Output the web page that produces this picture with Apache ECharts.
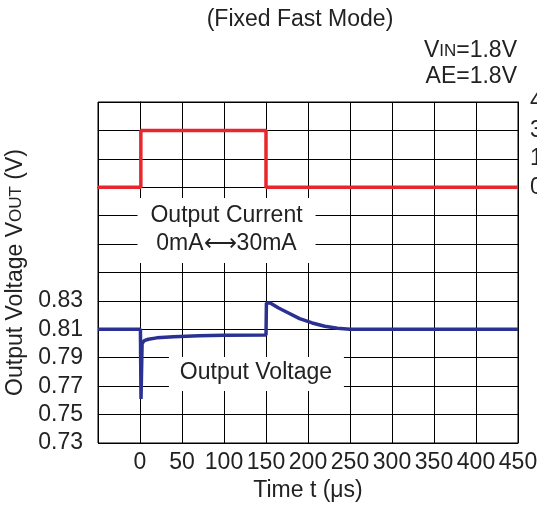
<!DOCTYPE html>
<html>
<head>
<meta charset="utf-8">
<script src="https://cdn.jsdelivr.net/npm/echarts@6/dist/echarts.min.js"></script>
<style>
html,body{margin:0;padding:0;background:#fff;}
#c{width:537px;height:518px;}
</style>
</head>
<body>
<div id="c"></div>
<script>
// Data
const timeCurrent = [-50, 1, 1, 150, 150, 450];
const currentMA   = [0, 0, 30, 30, 0, 0];
const timeVoltage = [-50, 0.5, 1.2, 2.5, 5, 10, 20, 40, 70, 100, 150, 150.5, 155, 165, 175, 190, 205, 220, 235, 250, 300, 450];
const vout        = [0.81, 0.81, 0.761, 0.800, 0.802, 0.803, 0.804, 0.8048, 0.8054, 0.8058, 0.806, 0.8285, 0.8285, 0.825, 0.822, 0.8175, 0.8145, 0.8122, 0.8108, 0.8101, 0.81, 0.81];
const xTicks = [0, 50, 100, 150, 200, 250, 300, 350, 400, 450];
const yTicks = ['0.73', '0.75', '0.77', '0.79', '0.81', '0.83'];
const currentTicks = [0, 15, 30, 45];

const FONT = 'Liberation Sans, Arial, sans-serif';
const FS = 23;
const chart = echarts.init(document.getElementById('c'), null, {renderer: 'canvas'});

const option = {
  backgroundColor: '#fff',
  animation: false,
  grid: {left: 98, right: 19, top: 102, bottom: 75, show: true, borderColor: '#000', borderWidth: 1,
         backgroundColor: 'transparent', containLabel: false, outerBoundsMode: 'none'},
  xAxis: {
    type: 'value', min: -50, max: 450, interval: 50,
    axisLine: {show: true, lineStyle: {color: '#000', width: 1}},
    axisTick: {show: false},
    splitLine: {show: true, lineStyle: {color: '#000', width: 1}},
    axisLabel: {
      color: '#222', fontFamily: FONT, fontSize: FS, margin: 8, hideOverlap: false,
      formatter: v => xTicks.indexOf(Math.round(v)) >= 0 ? String(Math.round(v)) : ''
    },
    name: 'Time t (\u03bcs)', nameLocation: 'middle', nameGap: 35,
    nameTextStyle: {color: '#222', fontFamily: FONT, fontSize: FS}
  },
  yAxis: [{
    type: 'value', min: 0.73, max: 0.97, interval: 0.02,
    axisLine: {show: true, lineStyle: {color: '#000', width: 1}},
    axisTick: {show: false},
    splitLine: {show: true, lineStyle: {color: '#000', width: 1}},
    axisLabel: {
      color: '#222', fontFamily: FONT, fontSize: FS, margin: 15,
      formatter: v => { const s = v.toFixed(2); return yTicks.indexOf(s) >= 0 ? s : ''; }
    },
    name: '{n|Output Voltage V}{s|OUT}{n| (V)}', nameLocation: 'middle', nameGap: 65,
    nameTextStyle: {
      color: '#222', fontFamily: FONT, fontSize: FS,
      rich: {n: {fontFamily: FONT, fontSize: FS, color: '#222'}, s: {fontFamily: FONT, fontSize: 17, color: '#222'}}
    }
  }, {
    type: 'value', min: -135, max: 45, interval: 15, position: 'right',
    axisLine: {show: true, lineStyle: {color: '#000', width: 1}},
    axisTick: {show: false},
    splitLine: {show: false},
    axisLabel: {
      color: '#222', fontFamily: FONT, fontSize: FS, margin: 12,
      formatter: v => currentTicks.indexOf(Math.round(v)) >= 0 ? String(Math.round(v)) : ''
    }
  }],
  series: [{
    type: 'line', name: 'Output Current', yAxisIndex: 1,
    data: timeCurrent.map((t, i) => [t, currentMA[i]]),
    showSymbol: false, symbol: 'none',
    lineStyle: {color: '#e8262d', width: 3.5}, z: 5
  }, {
    type: 'line', name: 'Output Voltage', yAxisIndex: 0,
    data: timeVoltage.map((t, i) => [t, vout[i]]),
    showSymbol: false, symbol: 'none',
    lineStyle: {color: '#2b3192', width: 3.5}, z: 5
  }]
};
chart.setOption(option);

// Annotations anchored to data coordinates
const p1 = chart.convertToPixel({gridIndex: 0}, [103, 0.88]);
const p2 = chart.convertToPixel({gridIndex: 0}, [138, 0.78]);
const txt = (x, y, s) => ({type: 'text', x: x, y: y, style: {text: s, font: FS + 'px ' + FONT, fill: '#222', align: 'center', verticalAlign: 'middle'}, z: 101});
chart.setOption({
  graphic: [
    {type: 'rect', shape: {x: p1[0] - 89, y: p1[1] - 32, width: 178, height: 65}, style: {fill: '#fff'}, z: 100},
    txt(p1[0], p1[1] - 14, 'Output Current'),
    txt(p1[0], p1[1] + 14, '0mA\u27f730mA'),
    {type: 'rect', shape: {x: p2[0] - 87, y: p2[1] - 15, width: 175, height: 34}, style: {fill: '#fff'}, z: 100},
    txt(p2[0], p2[1] + 1, 'Output Voltage'),
    txt(300, 20, '(Fixed Fast Mode)'),
    {type: 'text', x: 517, y: 51, z: 101, style: {
      text: '{n|V}{s|IN}{n|=1.8V}', align: 'right', verticalAlign: 'middle',
      rich: {n: {font: FS + 'px ' + FONT, fill: '#222'}, s: {font: '17px ' + FONT, fill: '#222'}}
    }},
    {type: 'text', x: 517, y: 77, z: 101, style: {text: 'AE=1.8V', font: FS + 'px ' + FONT, fill: '#222', align: 'right', verticalAlign: 'middle'}}
  ]
});
</script>
</body>
</html>
